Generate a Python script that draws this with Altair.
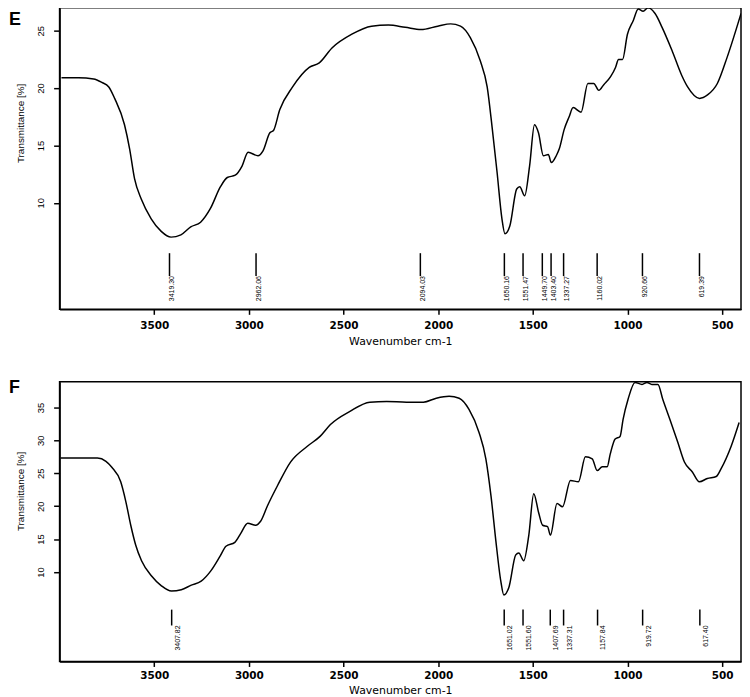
import altair as alt
import pandas as pd

# ---------------- data ----------------
X_TICKS = [3500, 3000, 2500, 2000, 1500, 1000, 500]

PANEL_LETTERS = ["E", "F"]

E_WN = [3990, 3900, 3820, 3777, 3740, 3709, 3657, 3630, 3604, 3568, 3516, 3463, 3411,
        3359, 3307, 3255, 3203, 3150, 3114, 3072, 3036, 3004, 2952, 2926, 2889, 2870,
        2837, 2769, 2681, 2628, 2561, 2456, 2352, 2263, 2174, 2091, 2002, 1934, 1882,
        1830, 1778, 1741, 1715, 1689, 1663, 1647, 1621, 1585, 1569, 1543, 1517, 1491,
        1470, 1444, 1418, 1402, 1376, 1360, 1334, 1308, 1287, 1245, 1209, 1178, 1151,
        1125, 1089, 1063, 1047, 1026, 1000, 969, 943, 917, 891, 854, 817, 765, 713,
        682, 619, 577, 525, 473, 400]
E_T = [20.9, 20.9, 20.8, 20.5, 20.1, 19.1, 16.8, 14.7, 12.1, 10.3, 8.6, 7.5, 7.0,
       7.2, 7.9, 8.3, 9.5, 11.4, 12.2, 12.4, 13.2, 14.4, 14.1, 14.5, 16.1, 16.3,
       18.1, 20.1, 21.8, 22.2, 23.5, 24.7, 25.4, 25.5, 25.3, 25.1, 25.4, 25.6, 25.4,
       24.4, 22.4, 20.1, 16.6, 12.7, 8.6, 7.3, 8.0, 11.2, 11.4, 10.6, 13.2, 16.8,
       16.1, 14.1, 14.2, 13.5, 14.1, 14.7, 16.4, 17.5, 18.3, 17.9, 20.4, 20.4, 19.8,
       20.3, 21.0, 21.8, 22.5, 22.5, 24.7, 25.9, 26.9, 26.7, 27.0, 26.5, 25.3, 23.3, 21.1,
       20.1, 19.1, 19.4, 20.4, 22.7, 26.5]

F_WN = [3995, 3900, 3800, 3755, 3724, 3677, 3650, 3624, 3598, 3567, 3514, 3462, 3409,
        3357, 3304, 3252, 3200, 3152, 3121, 3074, 3042, 3006, 2964, 2938, 2901, 2849,
        2780, 2691, 2624, 2569, 2466, 2361, 2272, 2167, 2078, 2010, 1942, 1889, 1837,
        1784, 1748, 1721, 1695, 1669, 1653, 1627, 1590, 1574, 1548, 1521, 1495, 1469,
        1448, 1422, 1407, 1372, 1343, 1301, 1259, 1222, 1186, 1160, 1133, 1107, 1091,
        1065, 1039, 1023, 997, 960, 923, 897, 871, 839, 813, 776, 734, 699, 657, 620,
        578, 531, 505, 452, 410]
F_T = [27.3, 27.3, 27.3, 26.8, 25.9, 23.7, 20.7, 17.1, 14.1, 11.7, 9.4, 7.9, 7.1,
       7.3, 8.0, 8.6, 10.2, 12.4, 13.9, 14.5, 15.9, 17.4, 17.1, 17.7, 20.1, 23.1,
       26.7, 29.1, 30.6, 32.4, 34.4, 35.8, 35.9, 35.8, 35.8, 36.4, 36.7, 36.4, 34.7,
       31.2, 27.2, 21.6, 14.7, 8.6, 6.5, 7.6, 12.6, 12.9, 11.7, 15.6, 21.9, 19.0,
       17.1, 16.9, 15.6, 20.4, 19.9, 23.9, 23.7, 27.5, 27.2, 25.4, 26.0, 26.0, 27.9,
       30.2, 30.6, 33.2, 36.2, 38.8, 38.5, 38.8, 38.5, 38.5, 36.2, 33.2, 29.7, 26.7, 25.2, 23.7,
       24.2, 24.5, 25.7, 29.1, 32.7]

E_PEAKS = [3419.30, 2962.06, 2094.03, 1650.16, 1551.47, 1449.70, 1403.40, 1337.27,
           1160.02, 920.66, 619.39]
F_PEAKS = [3407.82, 1651.02, 1551.60, 1407.69, 1337.31, 1157.84, 919.72, 617.40]

E_YTICKS = [10, 15, 20, 25]
F_YTICKS = [10, 15, 20, 25, 30, 35]

# ---------------- styling ----------------
W = 687


def panel(letter, wn, t, peaks, ydom, yticks, height, rule_top, rule_bot,
          text_dy, title_y, xtitle_y, tag_y, xlabel_pad):
    curve = pd.DataFrame({"wn": wn, "t": t})
    pk = pd.DataFrame({"wn": peaks, "y1": [rule_top] * len(peaks),
                       "y2": [rule_bot] * len(peaks)})
    xscale = alt.Scale(domain=[400, 4000], reverse=True, nice=False, zero=False)
    yscale = alt.Scale(domain=ydom, nice=False, zero=False)

    xaxis = alt.Axis(values=X_TICKS, format="d", title="Wavenumber cm-1", grid=False,
                     labelAngle=0, labelFont="DejaVu Sans", labelFontSize=10.5,
                     labelFontWeight="bold", labelPadding=xlabel_pad, labelColor="black",
                     labelOverlap=False,
                     tickSize=5, tickWidth=1.5, tickColor="black",
                     domainColor="black", domainWidth=1.5,
                     titleFont="DejaVu Sans", titleFontSize=11, titleFontWeight="normal",
                     titleColor="black", titleY=xtitle_y, titleBaseline="alphabetic")
    yaxis = alt.Axis(values=yticks, title="Transmittance [%]", grid=False,
                     labelAngle=270, labelAlign="center", labelBaseline="bottom",
                     labelPadding=8, labelFont="Liberation Sans", labelFontSize=9.5,
                     labelColor="black", labelOverlap=False,
                     tickSize=6, tickWidth=1.5, tickColor="black",
                     domainColor="black", domainWidth=1.5,
                     titleFont="Liberation Sans", titleFontSize=10,
                     titleFontWeight="normal", titleColor="black", titleAngle=270,
                     titleAlign="center", titleBaseline="alphabetic",
                     titleX=-36, titleY=title_y)

    X = alt.X("wn:Q", scale=xscale, axis=xaxis)

    line = alt.Chart(curve).mark_line(color="black", strokeWidth=1.5, clip=True,
                                      interpolate="monotone").encode(
        x=X,
        y=alt.Y("t:Q", scale=yscale, axis=yaxis),
        order=alt.Order("wn:Q", sort="descending"),
    )
    rules = alt.Chart(pk).mark_rule(color="black", strokeWidth=1.5).encode(
        x=X,
        y=alt.Y("y1:Q", scale=yscale, axis=yaxis),
        y2="y2:Q",
    )
    labels = alt.Chart(pk).mark_text(
        angle=270, align="right", baseline="middle", dy=text_dy,
        font="Liberation Sans", fontSize=7, color="black",
    ).encode(
        x=X,
        y=alt.Y("y2:Q", scale=yscale, axis=yaxis),
        text=alt.Text("wn:Q", format=".2f"),
    )
    tag = alt.Chart(pd.DataFrame({"letter": [letter]})).mark_text(
        align="left", baseline="top", font="Liberation Sans",
        fontSize=18, fontWeight="bold", color="black",
    ).encode(
        x=alt.value(-51),
        y=alt.value(tag_y),
        text="letter:N",
    )
    return alt.layer(line, rules, labels, tag).properties(width=W, height=height)


e = panel(PANEL_LETTERS[0], E_WN, E_T, E_PEAKS, [0.7, 27.0], E_YTICKS, 304,
          5.6, 3.6, 3, 116, 35, 3, 6)
f = panel(PANEL_LETTERS[1], F_WN, F_T, F_PEAKS, [-3.6, 38.9], F_YTICKS, 282,
          4.28, 1.87, 6, 110, 32, -3, 4)

chart = alt.vconcat(e, f, spacing=31).properties(
    padding={"left": 0, "top": -4, "right": 0, "bottom": 0},
    background="white",
).configure_view(stroke="black", strokeWidth=1.5)

chart.save("out.html", embed_options={"renderer": "svg", "actions": False})
